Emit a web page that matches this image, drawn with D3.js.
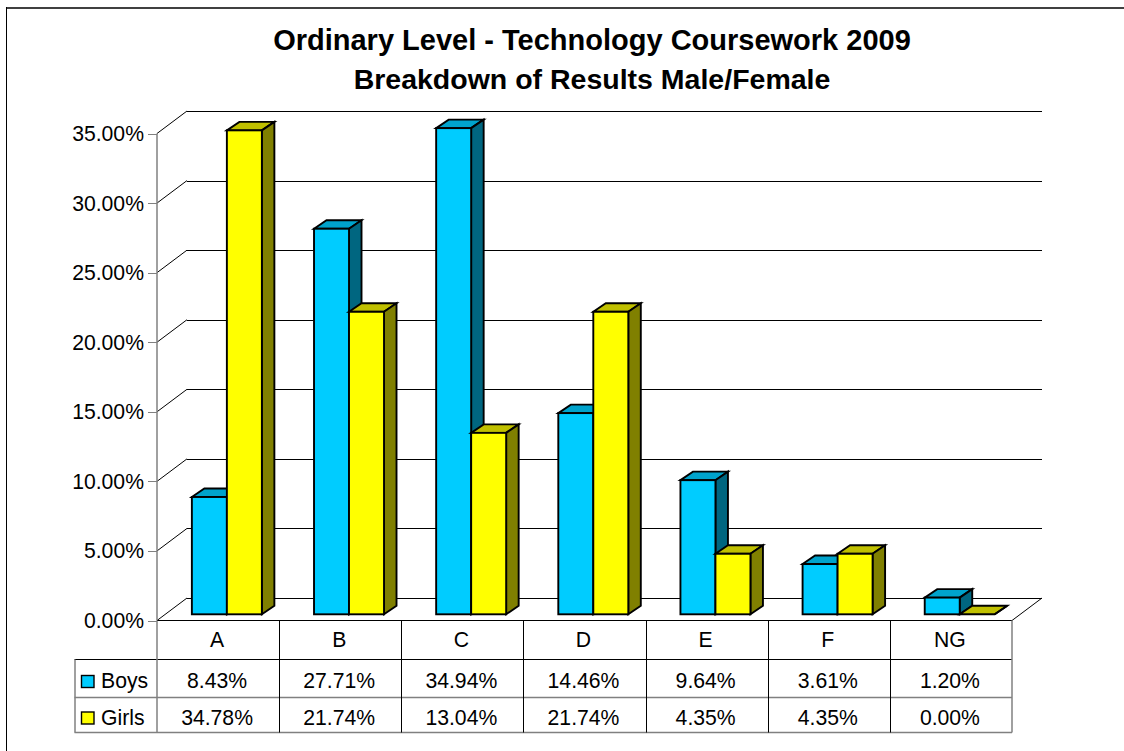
<!DOCTYPE html>
<html><head><meta charset="utf-8">
<script src="https://cdnjs.cloudflare.com/ajax/libs/d3/7.8.5/d3.min.js"></script>
<style>html,body{margin:0;padding:0;background:#fff;overflow:hidden}svg{display:block}text{font-family:"Liberation Sans",Arial,sans-serif;fill:#000}</style>
</head><body><svg id="c" width="1124" height="751"></svg>
<script>
const categories=["A","B","C","D","E","F","NG"];
const boys=[8.43,27.71,34.94,14.46,9.64,3.61,1.20];
const girls=[34.78,21.74,13.04,21.74,4.35,4.35,0.00];
const boysLabels=["8.43%","27.71%","34.94%","14.46%","9.64%","3.61%","1.20%"];
const girlsLabels=["34.78%","21.74%","13.04%","21.74%","4.35%","4.35%","0.00%"];
const yTicks=[0,5,10,15,20,25,30,35];
const titleLines=["Ordinary Level - Technology Coursework 2009","Breakdown of Results Male/Female"];

const svg=d3.select("#c");
const fx=d3.scaleBand().domain(categories).range([157,1012]);
const fy=d3.scaleLinear().domain([0,35]).range([620.5,133.5]);
const DX=30,DY=-22.5;          // floor depth
const bOff=8.8,bLift=-6.2;     // bar front offset from the front edge
const bw=35,bdx=12.5,bdy=-8.5; // bar width and depth
const grey="#808080";

// frame: only the top and left edges are visible
svg.append("line").attr("x1",6.5).attr("x2",1124).attr("y1",8).attr("y2",8).attr("stroke","#000").attr("stroke-width",1.5);
svg.append("line").attr("x1",6.5).attr("x2",6.5).attr("y1",7).attr("y2",751).attr("stroke","#000");

// title
svg.append("g").selectAll("text").data(titleLines).join("text")
 .attr("x",592).attr("y",(d,i)=>49.5+i*39).attr("text-anchor","middle")
 .attr("font-size",(d,i)=>i?28.5:29).attr("font-weight","bold").text(d=>d);

// gridlines & wall
const g=svg.append("g").attr("fill","none");
g.selectAll("line.grid").data(yTicks).join("line")
 .attr("x1",fx.range()[0]+DX).attr("x2",fx.range()[1]+DX)
 .attr("y1",d=>Math.round(fy(d)+DY)+.5).attr("y2",d=>Math.round(fy(d)+DY)+.5).attr("stroke","#000");
g.selectAll("line.side").data(yTicks).join("line")
 .attr("x1",fx.range()[0]).attr("x2",fx.range()[0]+DX)
 .attr("y1",d=>fy(d)).attr("y2",d=>fy(d)+DY).attr("stroke","#000");
// right floor edge
g.append("line").attr("x1",fx.range()[1]).attr("x2",fx.range()[1]+DX)
 .attr("y1",fy(0)).attr("y2",fy(0)+DY).attr("stroke","#000");
// y axis
g.append("line").attr("x1",157).attr("x2",157).attr("y1",fy(35)).attr("y2",fy(0)).attr("stroke",grey).attr("stroke-width",1.5);
g.selectAll("line.tick").data(yTicks).join("line")
 .attr("x1",148).attr("x2",157).attr("y1",d=>Math.round(fy(d))+.5).attr("y2",d=>Math.round(fy(d))+.5).attr("stroke",grey);
svg.append("g").selectAll("text").data(yTicks).join("text")
 .attr("x",144).attr("y",d=>fy(d)+7.5).attr("text-anchor","end").attr("font-size",21.2)
 .text(d=>d.toFixed(2)+"%");

// bars
const series=[
 {vals:boys,front:"#00CCFF",top:"#00A3CC",side:"#006680",i:0},
 {vals:girls,front:"#FFFF00",top:"#C0C000",side:"#808000",i:1}];
const bars=[];
categories.forEach((c,ci)=>series.forEach(s=>bars.push({c,v:s.vals[ci],s})));
const bg=svg.append("g").attr("stroke","#000").attr("stroke-width",1.9).attr("stroke-linejoin","miter");
bars.forEach(b=>{
 const x0=fx(b.c)+fx.bandwidth()/2+bOff-bw+b.s.i*bw, x1=x0+bw;
 const yb=fy(0)+bLift, yt=fy(b.v)+bLift;
 const pts=a=>a.map(p=>p.join(",")).join(" ");
 bg.append("polygon").attr("points",pts([[x0,yt],[x1,yt],[x1+bdx,yt+bdy],[x0+bdx,yt+bdy]])).attr("fill",b.s.top);
 bg.append("polygon").attr("points",pts([[x1,yt],[x1+bdx,yt+bdy],[x1+bdx,yb+bdy],[x1,yb]])).attr("fill",b.s.side);
 bg.append("rect").attr("x",x0).attr("y",yt).attr("width",bw).attr("height",yb-yt).attr("fill",b.s.front);
});

// data table
const rowY=[620.5,659.5,697.5,732.5];
const left=74.5,right=1012;
const t=svg.append("g");
t.append("line").attr("x1",157).attr("x2",right).attr("y1",rowY[0]).attr("y2",rowY[0]).attr("stroke","#000");
t.append("line").attr("x1",left).attr("x2",right).attr("y1",rowY[1]).attr("y2",rowY[1]).attr("stroke","#000");
t.append("line").attr("x1",left).attr("x2",right).attr("y1",rowY[2]).attr("y2",rowY[2]).attr("stroke",grey).attr("stroke-width",1.5);
t.append("line").attr("x1",left).attr("x2",right).attr("y1",rowY[3]).attr("y2",rowY[3]).attr("stroke",grey).attr("stroke-width",1.5);
t.append("line").attr("x1",left+.5).attr("x2",left+.5).attr("y1",rowY[1]).attr("y2",rowY[3]).attr("stroke",grey).attr("stroke-width",1.5);
t.append("line").attr("x1",157).attr("x2",157).attr("y1",rowY[0]).attr("y2",rowY[3]).attr("stroke",grey).attr("stroke-width",1.5);
categories.forEach((c,i)=>{
 const xr=Math.round(fx(c)+fx.bandwidth())+(i===6?0:.5);
 t.append("line").attr("x1",xr).attr("x2",xr).attr("y1",rowY[0]).attr("y2",rowY[3]).attr("stroke",i===6?grey:"#000").attr("stroke-width",i===6?1.5:1);
 const cx=fx(c)+fx.bandwidth()/2-1;
 [[c,647],[boysLabels[i],688],[girlsLabels[i],725]].forEach(([s,y])=>{
  t.append("text").attr("x",cx).attr("y",y).attr("text-anchor","middle").attr("font-size",21.2).text(s);
 });
});
[["Boys",series[0].front,688,675.5],["Girls",series[1].front,725,712]].forEach(([n,col,y,ky])=>{
 t.append("rect").attr("x",81.5).attr("y",ky).attr("width",12.5).attr("height",12).attr("fill",col).attr("stroke","#000").attr("stroke-width",1.4);
 t.append("text").attr("x",101).attr("y",y).attr("font-size",21.2).text(n);
});
</script></body></html>
